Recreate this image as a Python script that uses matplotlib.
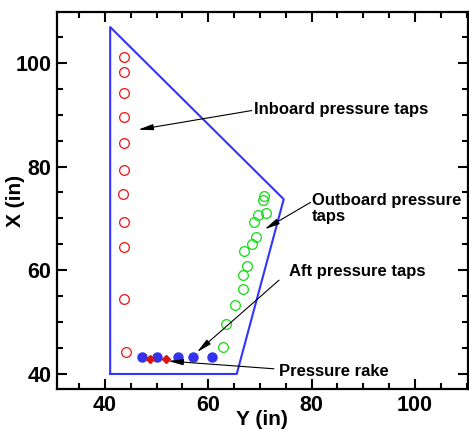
import matplotlib
matplotlib.use("Agg")
import matplotlib.pyplot as plt
from matplotlib.ticker import MultipleLocator

plt.rcParams['font.family'] = ['Liberation Sans', 'DejaVu Sans']
plt.rcParams['font.weight'] = 'bold'

# planform outline (Y, X)
outline_y = [41.0, 41.0, 74.6, 65.5, 41.0]
outline_x = [40.0, 106.9, 73.7, 40.0, 40.0]

# inboard pressure taps
inboard_y = [43.7, 43.7, 43.7, 43.7, 43.7, 43.7, 43.5, 43.7, 43.7, 43.7, 44.1]
inboard_x = [101.2, 98.3, 94.2, 89.6, 84.6, 79.4, 74.8, 69.4, 64.4, 54.4, 44.2]

# outboard pressure taps
outboard_y = [70.8, 70.6, 71.1, 69.7, 68.9, 69.3, 68.4, 67.0, 67.5, 66.7, 66.7, 65.1, 63.5, 62.9]
outboard_x = [74.4, 73.5, 71.1, 70.6, 69.3, 66.5, 65.1, 63.8, 60.8, 59.0, 56.3, 53.3, 49.7, 45.2]

# aft pressure taps
aft_y = [47.1, 50.1, 54.1, 57.0, 60.7]
aft_x = [43.3, 43.3, 43.3, 43.3, 43.3]

# pressure rake
rake_y = [48.7, 51.8]
rake_x = [42.9, 42.9]

fig = plt.figure(figsize=(4.69, 4.29), dpi=100)
ax = fig.add_axes([0.1215, 0.0932, 0.8755, 0.8788])

ax.plot(outline_y, outline_x, color='#3333ff', lw=1.5)
ax.plot(inboard_y, inboard_x, 'o', mfc='none', mec='#ee1111', ms=7, mew=0.9, ls='none')
ax.plot(outboard_y, outboard_x, 'o', mfc='none', mec='#11dd11', ms=7, mew=0.9, ls='none')
ax.plot(aft_y, aft_x, 'o', color='#3333ee', ms=6.5, ls='none')
ax.plot(rake_y, rake_x, 'D', color='#dd1111', ms=4.5, ls='none')

arrow = dict(arrowstyle='-|>,head_length=0.9,head_width=0.18', color='black', lw=0.8,
             shrinkA=0, shrinkB=0)
ax.annotate('', xy=(46.4, 87.1), xytext=(68.4, 90.8), arrowprops=arrow)
ax.annotate('', xy=(70.9, 67.9), xytext=(79.8, 73.1), arrowprops=arrow)
ax.annotate('', xy=(57.8, 44.2), xytext=(73.7, 58.1), arrowprops=arrow)
ax.annotate('', xy=(52.2, 42.5), xytext=(72.7, 41.0), arrowprops=arrow)

fs = 12
ax.text(68.8, 91.0, 'Inboard pressure taps', fontsize=fs, fontweight='bold', va='center')
ax.text(80.0, 71.9, 'Outboard pressure\ntaps', fontsize=fs, fontweight='bold', va='center',
        linespacing=1.1)
ax.text(75.6, 59.8, 'Aft pressure taps', fontsize=fs, fontweight='bold', va='center')
ax.text(73.6, 40.5, 'Pressure rake', fontsize=fs, fontweight='bold', va='center')

ax.set_xlim(30.7, 110.2)
ax.set_ylim(37.1, 109.8)
ax.xaxis.set_major_locator(MultipleLocator(20))
ax.xaxis.set_minor_locator(MultipleLocator(5))
ax.yaxis.set_major_locator(MultipleLocator(20))
ax.yaxis.set_minor_locator(MultipleLocator(5))
ax.tick_params(which='both', direction='in', top=True, right=True, width=1.5, labelsize=15.5)
ax.tick_params(which='major', length=7, pad=4)
ax.tick_params(which='minor', length=4.5)
for lab in ax.get_xticklabels() + ax.get_yticklabels():
    lab.set_fontweight('bold')
for s in ax.spines.values():
    s.set_linewidth(1.6)

ax.set_xlabel('Y (in)', fontsize=15, fontweight='bold')
ax.set_ylabel('X (in)', fontsize=15, fontweight='bold')
ax.xaxis.set_label_coords(0.5, -0.055)
ax.yaxis.set_label_coords(-0.102, 0.5)
ax.yaxis.label.set_va('center')

fig.savefig('out.png', dpi=100)
